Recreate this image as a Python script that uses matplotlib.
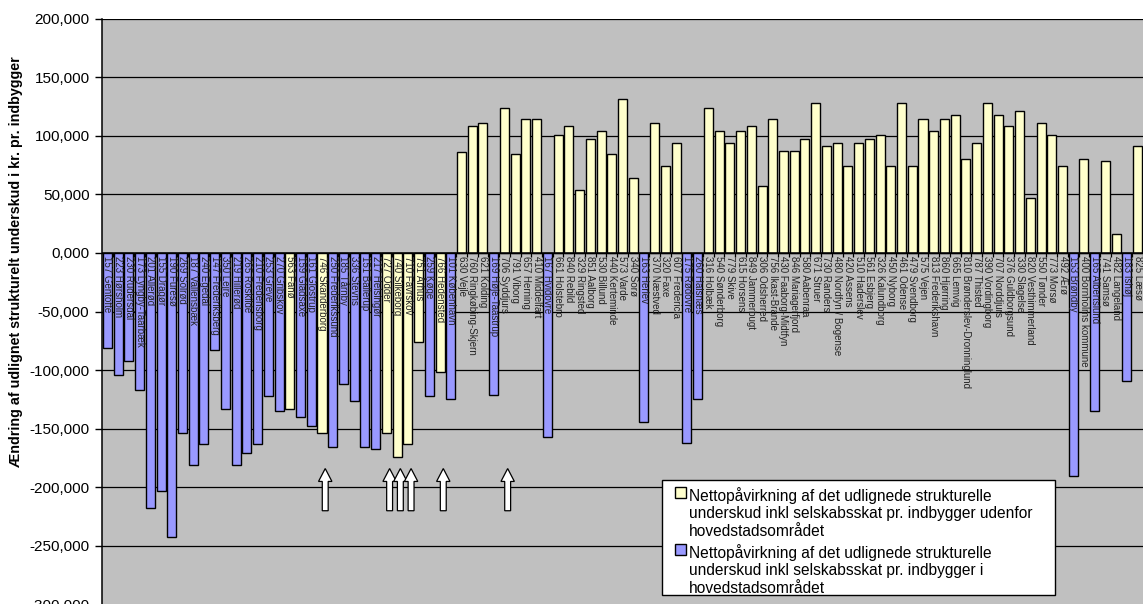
import matplotlib.pyplot as plt
from matplotlib.patches import FancyArrow, Rectangle

plt.rcParams['font.family'] = ['Liberation Sans', 'DejaVu Sans']

# kommuner i den rækkefølge de står i diagrammet
kommuner = [
    '157 Gentofte', '223 Hørsholm', '230 Rudersdal', '173 Lyngby-Taarbæk', '201 Allerød',
    '155 Dragør', '190 Furesø', '269 Solrød', '187 Vallensbæk', '240 Egedal',
    '147 Frederiksberg', '350 Lejre', '219 Hillerød', '265 Roskilde', '210 Fredensborg',
    '253 Greve', '270 Gribskov', '563 Fanø', '159 Gladsaxe', '161 Glostrup',
    '746 Skanderborg', '250 Frederikssund', '185 Tårnby', '336 Stevns', '151 Ballerup',
    '217 Helsingør', '727 Odder', '740 Silkeborg', '710 Favrskov', '751 Århus',
    '259 Køge', '766 Hedensted', '101 København', '630 Vejle', '760 Ringkøbing-Skjern',
    '621 Kolding', '169 Høje-Taastrup', '706 Syddjurs', '791 Viborg', '657 Herning',
    '410 Middelfart', '167 Hvidovre', '661 Holstebro', '840 Rebild', '329 Ringsted',
    '851 Aalborg', '530 Billund', '440 Kerteminde', '573 Varde', '340 Sorø',
    '163 Herlev', '370 Næstved', '320 Faxe', '607 Fredericia', '175 Rødovre',
    '260 Halsnæs', '316 Holbæk', '540 Sønderborg', '779 Skive', '615 Horsens',
    '849 Jammerbugt', '306 Odsherred', '756 Ikast-Brande', '430 Faaborg-Midtfyn', '846 Mariagerfjord',
    '580 Aabenraa', '671 Struer', '730 Randers', '480 Nordfyn / Bogense', '420 Assens',
    '510 Haderslev', '561 Esbjerg', '326 Kalundborg', '450 Nyborg', '461 Odense',
    '479 Svendborg', '575 Vejen', '813 Frederikshavn', '860 Hjørring', '665 Lemvig',
    '810 Brønderslev-Dronninglund', '787 Thisted', '390 Vordingborg', '707 Norddjurs', '376 Guldborgsund',
    '330 Slagelse', '820 Vesthimmerland', '550 Tønder', '773 Morsø', '492 Ærø',
    '153 Brøndby', '400 Bornholms kommune', '165 Albertslund', '741 Samsø', '482 Langeland',
    '183 Ishøj', '825 Læsø',
]

# kr. pr. indbygger
vaerdi = [
    -81, -104, -92, -117, -218,
    -203, -242, -154, -181, -163,
    -83, -133, -181, -171, -163,
    -122, -135, -133, -140, -148,
    -154, -166, -112, -126, -166,
    -167, -154, -174, -163, -76,
    -122, -102, -125, 86, 108,
    111, -121, 124, 84, 114,
    114, -157, 101, 108, 54,
    97, 104, 84, 131, 64,
    -144, 111, 74, 94, -162,
    -125, 124, 104, 94, 104,
    108, 57, 114, 87, 87,
    97, 128, 91, 94, 74,
    94, 97, 101, 74, 128,
    74, 114, 104, 114, 118,
    80, 94, 128, 118, 108,
    121, 47, 111, 101, 74,
    -190, 80, -135, 78, 16,
    -109, 91,
]

# kommunenumre i hovedstadsområdet
hovedstad_nr = [157, 223, 230, 173, 201, 155, 190, 269, 187, 240, 147, 350, 219, 265,
                210, 253, 270, 159, 161, 250, 185, 336, 151, 217, 259, 101, 169, 167,
                163, 175, 260, 153, 165, 183]

# kommuner markeret med pil
pil_nr = [746, 727, 740, 710, 766, 706]

serie_navne = [
    'Nettopåvirkning af det udlignede strukturelle\nunderskud inkl selskabsskat pr. indbygger udenfor\nhovedstadsområdet',
    'Nettopåvirkning af det udlignede strukturelle\nunderskud inkl selskabsskat pr. indbygger i\nhovedstadsområdet',
]

gul = '#FFFFCC'
blaa = '#9999FF'

W, H = 1143, 604
nr = [int(k.split()[0]) for k in kommuner]
x = list(range(len(kommuner)))
farver = [blaa if n in hovedstad_nr else gul for n in nr]

fig = plt.figure(figsize=(W / 100, H / 100), dpi=100)
ax = fig.add_axes([102 / W, -0.5 / H, 1041 / W, 586 / H])
ax.set_facecolor('#C0C0C0')

ax.bar(x, vaerdi, width=0.84, color=farver, edgecolor='black', linewidth=1.0, zorder=3)

ax.set_xlim(-0.5, len(kommuner) - 0.5)
ax.set_ylim(-300, 200)
yticks = list(range(-300, 201, 50))
ax.set_yticks(yticks)
ax.set_yticklabels([f'{v:.3f}'.replace('.', ',') for v in yticks], fontsize=11)
ax.tick_params(axis='y', length=5, width=1, pad=4)
ax.set_xticks([])

for v in yticks:
    ax.axhline(v, color='black', linewidth=0.9, zorder=1)
ax.axhline(0, color='black', linewidth=1.1, zorder=4)
ax.vlines([i + 0.5 for i in x], -3.5, 0, color='black', linewidth=0.9, zorder=2)

for s in ['right', 'bottom', 'top']:
    ax.spines[s].set_visible(False)
ax.spines['left'].set_linewidth(1.1)

# kommunenavne lodret under nullinjen
for i, navn in enumerate(kommuner):
    ax.annotate(navn, (i, 0), xytext=(0, -2.5), textcoords='offset points',
                rotation=270, ha='center', va='top', fontsize=7, color='#222222',
                zorder=5)

# pile under de markerede kommuner
for n in pil_nr:
    i = nr.index(n)
    ax.add_patch(FancyArrow(i + 0.3, -220, 0, 36, width=0.55, head_width=1.25,
                            head_length=11, length_includes_head=True,
                            facecolor='white', edgecolor='black', linewidth=0.9,
                            zorder=6))


def fx(px):
    return px / W


def fy(py):
    return 1 - py / H


# forklaring: boks med firkant ud for første linje i hver tekst
fig.patches.append(Rectangle((fx(662), fy(595)), fx(1055) - fx(662), fy(480) - fy(595),
                             transform=fig.transFigure, facecolor='white',
                             edgecolor='black', linewidth=1.0, zorder=10))
for (top, farve), navn in zip([(487, gul), (544, blaa)], serie_navne):
    fig.patches.append(Rectangle((fx(675), fy(top + 11)), fx(11), 11 / H,
                                 transform=fig.transFigure, facecolor=farve,
                                 edgecolor='black', linewidth=1.0, zorder=11))
    fig.text(fx(689), fy(top), navn, ha='left', va='top', fontsize=11.2,
             linespacing=1.2, zorder=12)

fig.text(16 / W, 1 - 262 / H,
         'Ændring af udlignet strukturelt underskud i kr. pr. indbygger',
         rotation=90, ha='center', va='center', fontsize=10.3, fontweight='bold')

fig.savefig('out.png', dpi=100, facecolor='white')
